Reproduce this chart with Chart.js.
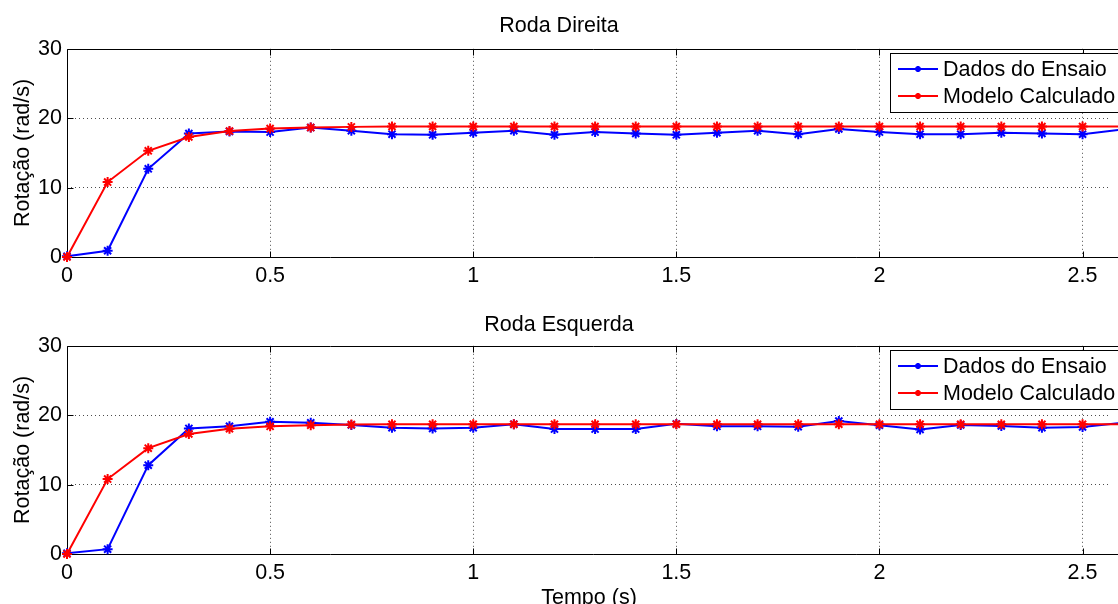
<!DOCTYPE html>
<html>
<head>
    <title>Roda Direita / Roda Esquerda</title>
    <script src="https://cdn.jsdelivr.net/npm/chart.js"></script>
    <style>
        body {
            background-color: white;
            margin: 0;
            width: 1118px;
            height: 604px;
            overflow: hidden;
        }
        .plot {
            position: relative;
            width: 1118px;
        }
        canvas {
            display: block;
        }
    </style>
</head>
<body>
    <div class="plot"><canvas id="direita" width="1118" height="297"></canvas></div>
    <div class="plot"><canvas id="esquerda" width="1118" height="320"></canvas></div>

    <script>
        const tempo = [0, 0.1, 0.2, 0.3, 0.4, 0.5, 0.6, 0.7, 0.8, 0.9, 1.0, 1.1, 1.2, 1.3,
                       1.4, 1.5, 1.6, 1.7, 1.8, 1.9, 2.0, 2.1, 2.2, 2.3, 2.4, 2.5, 2.6];

        const direitaDados = [0.1, 0.9, 12.7, 17.8, 18.1, 18.0, 18.65, 18.2, 17.7, 17.6, 17.9, 18.2, 17.6, 18.0,
                              17.8, 17.6, 17.9, 18.2, 17.7, 18.45, 18.0, 17.7, 17.7, 17.9, 17.8, 17.7, 18.4];
        const direitaModelo = [0, 10.8, 15.3, 17.3, 18.15, 18.5, 18.65, 18.75, 18.8, 18.8, 18.8, 18.8, 18.8, 18.8,
                               18.8, 18.8, 18.8, 18.8, 18.8, 18.8, 18.8, 18.8, 18.8, 18.8, 18.8, 18.8, 18.8];

        const esquerdaDados = [0.1, 0.7, 12.8, 18.1, 18.4, 19.05, 18.9, 18.6, 18.2, 18.1, 18.2, 18.7, 18.0, 18.0,
                               18.0, 18.75, 18.4, 18.4, 18.35, 19.15, 18.55, 17.95, 18.6, 18.45, 18.2, 18.3, 18.9];
        const esquerdaModelo = [0, 10.8, 15.25, 17.3, 18.05, 18.4, 18.55, 18.65, 18.7, 18.7, 18.7, 18.7, 18.7, 18.7,
                                18.7, 18.7, 18.7, 18.7, 18.7, 18.7, 18.7, 18.7, 18.7, 18.7, 18.7, 18.7, 18.7];

        const xTicks = [0, 0.5, 1, 1.5, 2, 2.5];
        const yTicks = [0, 10, 20, 30];
        const legendLabels = ['Dados do Ensaio', 'Modelo Calculado'];

        const FONT = 21.5;
        const GRID = 'rgba(0,0,0,0.7)';
        Chart.defaults.font.family = "'Liberation Sans', Arial, sans-serif";
        Chart.defaults.font.size = FONT;
        Chart.defaults.color = '#000';

        // no dotted line on top of the solid box edges
        const gridColor = c => (c.tick && (c.tick.value === 0 || c.tick.value === 30)) ? 'rgba(0,0,0,0)' : GRID;

        // matlab style box, inward ticks and legend
        const matlabAxes = {
            id: 'matlabAxes',
            beforeDatasetsDraw(chart) {
                const {ctx, chartArea: a, scales} = chart;
                const l = Math.round(a.left) + 0.5;
                const t = Math.round(a.top) + 0.5;
                const b = Math.round(a.bottom) + 0.5;
                ctx.save();
                ctx.strokeStyle = '#000';
                ctx.lineWidth = 1;
                ctx.setLineDash([]);
                ctx.beginPath();
                ctx.moveTo(l, b);
                ctx.lineTo(l, t);
                ctx.lineTo(chart.width + 5, t);
                ctx.moveTo(l, b);
                ctx.lineTo(chart.width + 5, b);
                xTicks.forEach(v => {
                    const x = Math.round(scales.x.getPixelForValue(v)) + 0.5;
                    ctx.moveTo(x, b);
                    ctx.lineTo(x, b - 6);
                    ctx.moveTo(x, t);
                    ctx.lineTo(x, t + 6);
                });
                yTicks.forEach(v => {
                    const y = Math.round(scales.y.getPixelForValue(v)) + 0.5;
                    ctx.moveTo(l, y);
                    ctx.lineTo(l + 6, y);
                });
                ctx.stroke();
                ctx.restore();
            },
            afterDraw(chart) {
                const {ctx, chartArea: a} = chart;
                const left = 890, top = Math.round(a.top) + 4;
                ctx.save();
                ctx.fillStyle = '#fff';
                ctx.fillRect(left, top, 260, 59);
                ctx.strokeStyle = '#000';
                ctx.lineWidth = 1;
                ctx.strokeRect(left + 0.5, top + 0.5, 260, 59);
                chart.data.datasets.slice().reverse().forEach((ds, i) => {
                    const y = top + 16 + i * 27;
                    ctx.strokeStyle = ds.borderColor;
                    ctx.lineWidth = 2;
                    ctx.beginPath();
                    ctx.moveTo(898, y);
                    ctx.lineTo(938, y);
                    ctx.stroke();
                    Chart.helpers.drawPoint(ctx, {pointStyle: 'star', radius: 3, borderWidth: 2}, 918, y);
                    ctx.fillStyle = '#000';
                    ctx.font = FONT + "px 'Liberation Sans', Arial, sans-serif";
                    ctx.textBaseline = 'middle';
                    ctx.textAlign = 'left';
                    ctx.fillText(ds.label, 943, y + 1);
                });
                ctx.restore();
            }
        };

        function makeChart(id, titulo, dados, modelo, bottom) {
            const ctx = document.getElementById(id).getContext('2d');
            return new Chart(ctx, {
                type: 'line',
                data: {
                    labels: tempo,
                    datasets: [
                        {
                            label: legendLabels[1],
                            data: modelo.map((v, i) => ({x: tempo[i], y: v})),
                            borderColor: '#ff0000',
                            backgroundColor: '#ff0000',
                            borderWidth: 2,
                            pointStyle: 'star',
                            pointRadius: 5,
                            pointBorderWidth: 2,
                            order: 0,
                            clip: false
                        },
                        {
                            label: legendLabels[0],
                            data: dados.map((v, i) => ({x: tempo[i], y: v})),
                            borderColor: '#0000ff',
                            backgroundColor: '#0000ff',
                            borderWidth: 2,
                            pointStyle: 'star',
                            pointRadius: 5,
                            pointBorderWidth: 2,
                            order: 1,
                            clip: false
                        }
                    ]
                },
                options: {
                    responsive: false,
                    animation: false,
                    layout: { padding: 0 },
                    scales: {
                        x: {
                            type: 'linear',
                            min: 0,
                            max: 2.57,
                            afterBuildTicks: s => { s.ticks = xTicks.map(v => ({value: v})); },
                            afterFit: s => { s.height = bottom ? 63 : 40; },
                            ticks: {
                                includeBounds: false,
                                padding: 6,
                                maxRotation: 0,
                                callback: v => String(v)
                            },
                            grid: { color: gridColor, drawTicks: false },
                            border: { display: false, dash: [1, 3] },
                            title: {
                                display: bottom,
                                text: 'Tempo (s)',
                                padding: { top: 0, bottom: 6 }
                            }
                        },
                        y: {
                            min: 0,
                            max: 30,
                            afterBuildTicks: s => { s.ticks = yTicks.map(v => ({value: v})); },
                            afterFit: s => { s.width = 67; },
                            ticks: { padding: 5, callback: v => String(v) },
                            grid: { color: gridColor, drawTicks: false },
                            border: { display: false, dash: [1, 3] },
                            title: {
                                display: true,
                                text: 'Rotação (rad/s)',
                                padding: { top: 10, bottom: 0 }
                            }
                        }
                    },
                    plugins: {
                        legend: { display: false },
                        tooltip: { enabled: false },
                        title: {
                            display: true,
                            text: titulo,
                            color: '#000',
                            font: { size: FONT, weight: 'normal' },
                            padding: bottom ? { top: 15, bottom: 8 } : { top: 13, bottom: 10 }
                        }
                    }
                },
                plugins: [matlabAxes]
            });
        }

        makeChart('direita', 'Roda Direita', direitaDados, direitaModelo, false);
        makeChart('esquerda', 'Roda Esquerda', esquerdaDados, esquerdaModelo, true);
    </script>
</body>
</html>
